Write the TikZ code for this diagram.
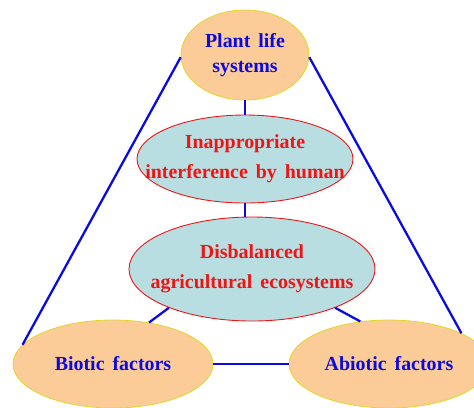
\documentclass[tikz,border=0pt]{standalone}
\usepackage{fontspec}
\setmainfont{Liberation Serif}
\usetikzlibrary{shapes.geometric}
\definecolor{peach}{RGB}{252,204,152}
\definecolor{ltblue}{RGB}{184,222,226}
\definecolor{ybord}{RGB}{225,215,40}
\definecolor{myblue}{RGB}{10,10,225}
\definecolor{myred}{RGB}{240,20,20}
\newcommand\mywidesp{\spaceskip=0.4em\relax}
\tikzset{
  outer/.style={ellipse, draw=ybord, line width=0.8pt, fill=peach, inner sep=0pt},
  inner/.style={ellipse, draw=myred, line width=0.9pt, fill=ltblue, inner sep=0pt},
  btxt/.style={font=\fontsize{20}{25}\selectfont\bfseries\mywidesp, text=myblue, align=center, inner sep=0pt},
  rtxt/.style={font=\fontsize{20}{30.5}\selectfont\bfseries\mywidesp, text=myred, align=center, inner sep=0pt},
  conn/.style={draw=myblue, line width=2.3pt},
}
\begin{document}
\begin{tikzpicture}[x=1bp,y=-1bp]
\useasboundingbox (0,0) rectangle (474,407);
\node[outer, minimum width=128bp, minimum height=90bp,
      label={[btxt]center:{Plant life\\systems}}] (plant) at (245,55) {};
\node[inner, minimum width=216bp, minimum height=88bp,
      label={[rtxt]center:{Inappropriate\\interference by human}}] (inap) at (245,159) {};
\node[inner, minimum width=246bp, minimum height=104bp,
      label={[rtxt]center:{Disbalanced\\agricultural ecosystems}}] (dis) at (252,269) {};
\node[outer, minimum width=200bp, minimum height=88bp,
      label={[btxt]center:{Biotic factors}}] (biotic) at (113,364) {};
\node[outer, minimum width=200bp, minimum height=88bp,
      label={[btxt]center:{Abiotic factors}}] (abiotic) at (389,364) {};
\draw[conn] (plant.182) -- (biotic.168);
\draw[conn] (plant.358) -- (abiotic.23);
\draw[conn] (plant.south) -- (inap.north);
\draw[conn] (inap.south) -- (inap.south |- dis.north);
\draw[conn] (dis.205) -- (biotic.49);
\draw[conn] (dis.335) -- (abiotic.124);
\draw[conn] (biotic.east) -- (abiotic.west);
\end{tikzpicture}
\end{document}
